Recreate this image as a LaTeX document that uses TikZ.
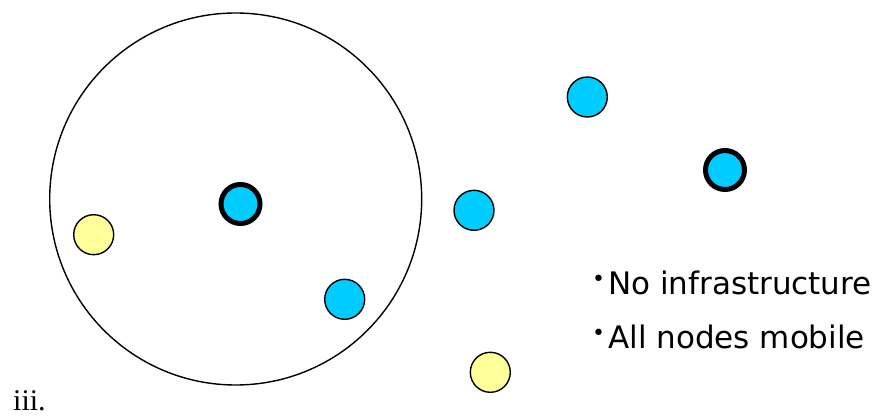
\documentclass[tikz,border=0pt]{standalone}
\usepackage{fontspec}
\setmainfont{DejaVu Sans}
\newfontfamily\serifro{Liberation Serif}
\definecolor{nodecyan}{HTML}{00CCFF}
\definecolor{nodeyellow}{HTML}{FFFF99}
\newcommand{\mybul}{{\fontsize{22}{22}\selectfont\raisebox{8pt}{•}}\hspace{3pt}}
\tikzset{
  plainnode/.style={circle, draw=black, line width=1.4pt, minimum size=40pt, inner sep=0pt},
  headnode/.style={circle, draw=black, line width=5pt, fill=nodecyan, minimum size=39pt, inner sep=0pt},
  cyannode/.style={plainnode, fill=nodecyan},
  yellownode/.style={plainnode, fill=nodeyellow},
  rangecircle/.style={circle, draw=black, line width=1.4pt, minimum size=372pt, inner sep=0pt},
  bullettext/.style={anchor=base west, inner sep=0pt, font=\fontsize{31}{31}\selectfont},
  labeltext/.style={anchor=base west, inner sep=0pt, font=\serifro\fontsize{30}{30}\selectfont}
}
\begin{document}
\begin{tikzpicture}[x=1pt,y=-1pt]
\useasboundingbox (0,0) rectangle (884,417);
\node[rangecircle] (range) at (235.7,199) {};
\node[headnode] (h1) at (240.5,204) {};
\node[yellownode] (y1) at (93.7,234.7) {};
\node[cyannode] (c1) at (344.7,299.3) {};
\node[cyannode] (c2) at (474,210.3) {};
\node[cyannode] (c3) at (587.3,97) {};
\node[headnode] (h2) at (725,170) {};
\node[yellownode] (y2) at (490.3,372.3) {};
\node[bullettext] (t1) at (592,294) {\mybul No infrastructure};
\node[bullettext] (t2) at (592,348) {\mybul All nodes mobile};
\node[labeltext] (lab) at (13,410) {iii.};
\end{tikzpicture}
\end{document}
